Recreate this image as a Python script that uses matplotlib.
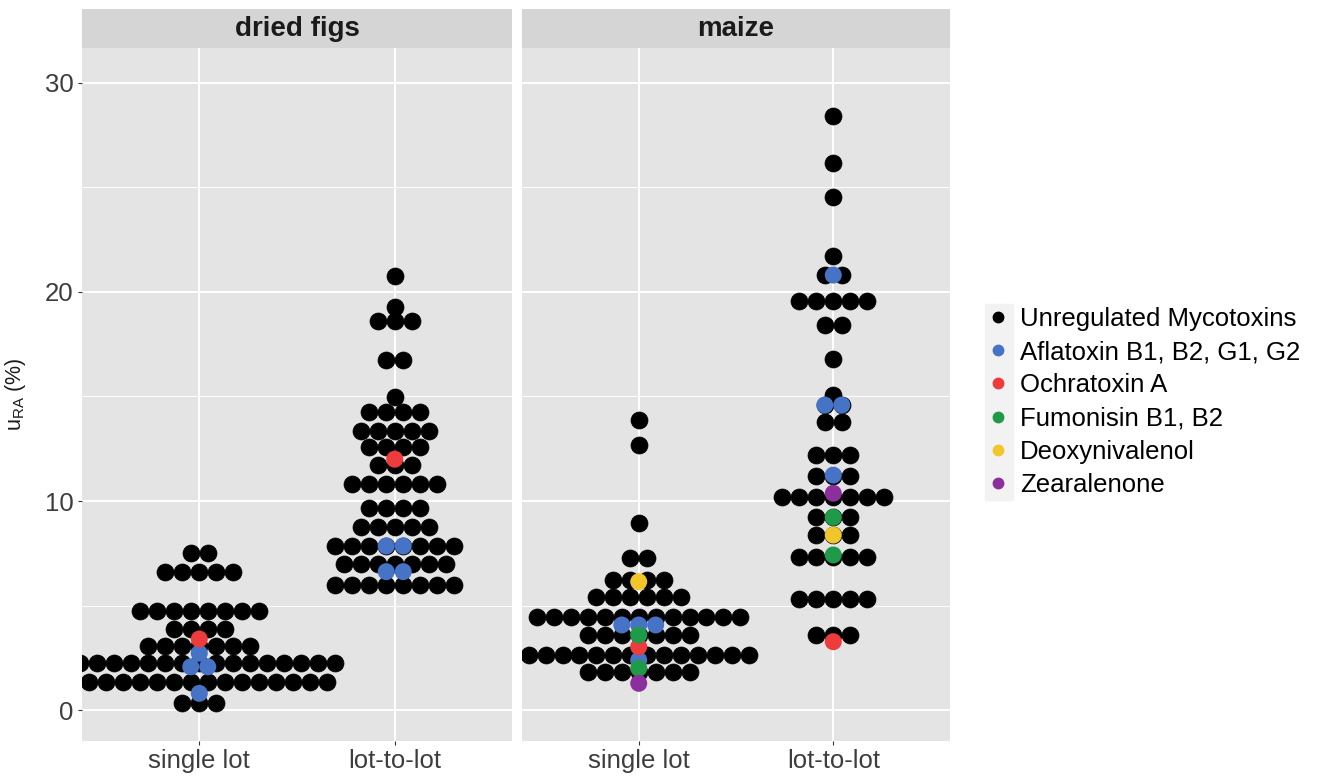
#!/usr/bin/env python3
import numpy as np
import matplotlib
matplotlib.use('Agg')
import matplotlib.pyplot as plt
from matplotlib.lines import Line2D
from matplotlib.patches import Rectangle

plt.rcParams['font.family'] = ['Liberation Sans', 'DejaVu Sans']
plt.rcParams['mathtext.default'] = 'regular'

panels = ['dried figs', 'maize']
categories = ['single lot', 'lot-to-lot']

# black (unregulated) dot rows: bin centre and number of dots in the row
figs_single_y = [0.32, 1.36, 2.23, 3.06, 3.86, 4.74, 6.59, 7.53]
figs_single_n = [3, 16, 17, 7, 4, 8, 5, 2]
figs_lot_y = [5.98, 6.99, 7.85, 8.77, 9.65, 10.81, 11.72, 12.6, 13.36,
              14.27, 14.99, 16.75, 18.63, 19.3, 20.77]
figs_lot_n = [8, 7, 8, 5, 4, 6, 3, 4, 5, 4, 1, 2, 3, 1, 1]
maize_single_y = [1.83, 2.63, 3.59, 4.47, 5.42, 6.22, 7.26, 8.93, 12.68, 13.88]
maize_single_n = [7, 14, 7, 13, 6, 4, 2, 1, 1, 1]
maize_lot_y = [3.59, 5.31, 7.34, 8.37, 9.22, 10.21, 11.2, 12.2, 13.8, 14.59,
               15.07, 16.78, 18.42, 19.57, 20.81, 21.74, 24.53, 26.16, 28.42]
maize_lot_n = [3, 5, 5, 3, 3, 7, 3, 3, 2, 2, 1, 1, 2, 5, 2, 1, 1, 1, 1]

# regulated toxins: (panel, category, bin centre, dots in row)
aflatoxin = [('dried figs', 'single lot', 0.8, 1), ('dried figs', 'single lot', 2.07, 2),
             ('dried figs', 'single lot', 2.72, 1), ('dried figs', 'lot-to-lot', 6.62, 2),
             ('dried figs', 'lot-to-lot', 7.85, 2), ('maize', 'single lot', 2.39, 1),
             ('maize', 'single lot', 4.07, 3), ('maize', 'lot-to-lot', 11.24, 1),
             ('maize', 'lot-to-lot', 14.59, 2), ('maize', 'lot-to-lot', 20.81, 1)]
ochratoxin = [('dried figs', 'single lot', 3.4, 1), ('dried figs', 'lot-to-lot', 12.0, 1),
              ('maize', 'single lot', 3.03, 1), ('maize', 'lot-to-lot', 3.27, 1)]
fumonisin = [('maize', 'single lot', 2.0, 1), ('maize', 'single lot', 3.59, 1),
             ('maize', 'lot-to-lot', 7.42, 1), ('maize', 'lot-to-lot', 9.22, 1)]
deoxynivalenol = [('maize', 'single lot', 6.14, 1), ('maize', 'lot-to-lot', 8.37, 1)]
zearalenone = [('maize', 'single lot', 1.28, 1), ('maize', 'lot-to-lot', 10.37, 1)]

group_labels = ['Unregulated Mycotoxins', 'Aflatoxin B1, B2, G1, G2', 'Ochratoxin A',
                'Fumonisin B1, B2', 'Deoxynivalenol', 'Zearalenone']
group_colors = ['#000000', '#4673C6', '#EE3B3B', '#1F9A48', '#F1C62B', '#8B2F9C']

DX = 0.087      # horizontal dot spacing in x units
DOT_S = 150     # marker area


def stack_rows(xc, ys, ns):
    xs, yy = [], []
    for y, n in zip(ys, ns):
        off = (np.arange(n) - (n - 1) / 2) * DX
        xs.extend(xc + off)
        yy.extend([y] * n)
    return xs, yy


W, H = 1317, 778
fig = plt.figure(figsize=(W / 100, H / 100), dpi=100)

panel_px = [(82, 430), (522, 428)]
top, bottom = 48, 741
axes = []
for (x0, w), name in zip(panel_px, panels):
    ax = fig.add_axes([x0 / W, (H - bottom) / H, w / W, (bottom - top) / H])
    ax.set_facecolor('#E4E4E4')
    for s in ax.spines.values():
        s.set_visible(False)
    ax.set_xlim(0.4, 2.6)
    ax.set_ylim(-1.48, 31.67)
    ax.set_xticks([1, 2])
    ax.set_xticklabels(categories)
    ax.set_yticks([0, 10, 20, 30])
    ax.set_yticks([5, 15, 25], minor=True)
    ax.grid(which='major', color='white', lw=1.4)
    ax.grid(which='minor', axis='y', color='white', lw=0.7)
    ax.set_axisbelow(True)
    ax.tick_params(axis='both', which='major', length=3, width=0.8, color='#333333',
                   labelsize=18.5, labelcolor='#3D3D3D', pad=3)
    ax.tick_params(axis='y', which='minor', length=0)
    # strip
    sax = fig.add_axes([x0 / W, (H - top) / H, w / W, 39 / H])
    sax.set_facecolor('#D5D5D5')
    sax.set_xticks([])
    sax.set_yticks([])
    for s in sax.spines.values():
        s.set_visible(False)
    sax.text(0.5, 0.5, name, ha='center', va='center', fontsize=20,
             fontweight='bold', color='#1A1A1A', transform=sax.transAxes)
    axes.append(ax)

axes[1].tick_params(axis='y', which='major', length=0, labelleft=False)
axes[0].set_ylabel(r'u$_{RA}$ (%)', fontsize=15.5, color='#1A1A1A', labelpad=12)

black = [(0, 1, figs_single_y, figs_single_n), (0, 2, figs_lot_y, figs_lot_n),
         (1, 1, maize_single_y, maize_single_n), (1, 2, maize_lot_y, maize_lot_n)]
for pi, xc, ys, ns in black:
    xs, yy = stack_rows(xc, ys, ns)
    axes[pi].scatter(xs, yy, s=DOT_S, c='black', edgecolors='black', linewidths=0.5, zorder=3)

for rows, col in zip([aflatoxin, ochratoxin, fumonisin, deoxynivalenol, zearalenone],
                     group_colors[1:]):
    for panel, cat, y, n in rows:
        ax = axes[panels.index(panel)]
        xs, yy = stack_rows(categories.index(cat) + 1, [y], [n])
        ax.scatter(xs, yy, s=DOT_S, c=col, edgecolors='none', zorder=4)

# legend
fig.patches.append(Rectangle((985 / W, (H - 500) / H), 28 / W, 196 / H,
                             transform=fig.transFigure, color='#F2F2F2', zorder=0))
handles = [Line2D([], [], ls='none', marker='o', ms=7.5, mfc=c, mec=c) for c in group_colors]
fig.legend(handles, group_labels, loc='center left', bbox_to_anchor=(985 / W, (H - 402) / H),
           frameon=False, fontsize=18.5, handlelength=1.0, handletextpad=0.35,
           labelspacing=0.36, borderpad=0, borderaxespad=0)

fig.savefig('out.png', dpi=100)
